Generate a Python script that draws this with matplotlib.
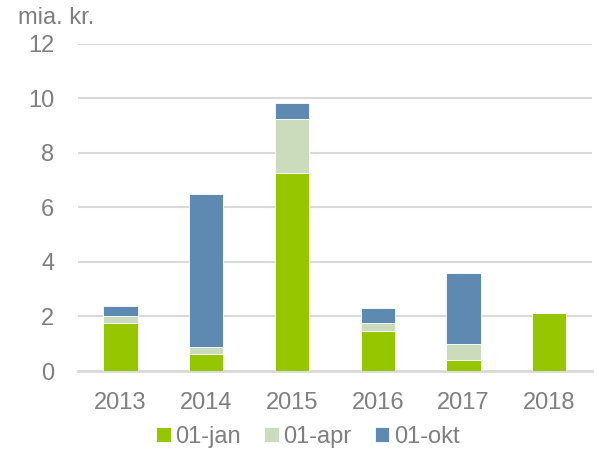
import numpy as np
import matplotlib.pyplot as plt

plt.rcParams['font.family'] = ['Liberation Sans', 'DejaVu Sans']

# Data (mia. kr.)
aar = ['2013', '2014', '2015', '2016', '2017', '2018']
jan = [1.77, 0.61, 7.25, 1.48, 0.41, 2.12]
apr = [0.26, 0.28, 2.00, 0.29, 0.57, 0.00]
okt = [0.36, 5.59, 0.57, 0.55, 2.60, 0.00]

farver = ['#95C600', '#CBDCBC', '#5E89B0']
tekst_farve = '#7F7F7F'
fs = 17

fig = plt.figure(figsize=(5.98, 4.53), dpi=100)
ax = fig.add_axes([0.130, 0.181, 0.860, 0.722])

x = np.arange(len(aar))
bund = np.zeros(len(aar))
for serie, navn, farve in zip([jan, apr, okt], ['01-jan', '01-apr', '01-okt'], farver):
    ax.bar(x, serie, width=0.4, bottom=bund, color=farve, label=navn,
           edgecolor='white', linewidth=0.6, zorder=3)
    bund = bund + np.array(serie)

ax.set_xlim(-0.5, len(aar) - 0.5)
ax.set_ylim(0, 12)
ax.set_yticks(range(0, 13, 2))
ax.set_xticks(x)
ax.set_xticklabels(aar)
ax.yaxis.grid(True, color='#D9D9D9', linewidth=1.5, zorder=0)
for side in ['top', 'right', 'left']:
    ax.spines[side].set_visible(False)
ax.spines['bottom'].set_color('#D9D9D9')
ax.spines['bottom'].set_linewidth(2)
ax.tick_params(axis='both', length=0, labelsize=fs, colors=tekst_farve)
ax.tick_params(axis='y', pad=17)
ax.tick_params(axis='x', pad=15)

fig.text(0.03, 0.935, 'mia. kr.', fontsize=fs, color=tekst_farve, ha='left', va='bottom')

handles, labels = ax.get_legend_handles_labels()
leg = fig.legend(handles, labels, loc='center', bbox_to_anchor=(0.515, 0.035), ncol=3,
                 frameon=False, fontsize=fs, handlelength=0.6, handleheight=0.6,
                 handletextpad=0.2, columnspacing=1.0, borderpad=0)
for t in leg.get_texts():
    t.set_color(tekst_farve)

fig.savefig('out.png', dpi=100)
